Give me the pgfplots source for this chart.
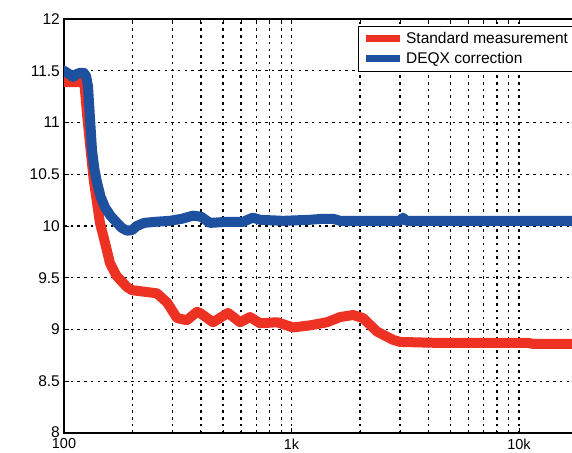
\documentclass[border=0pt]{standalone}
\usepackage{pgfplots}
\pgfplotsset{compat=1.18}
\usepackage{fontspec}
\setmainfont{Liberation Sans}
\definecolor{cred}{RGB}{237,50,36}
\definecolor{cblue}{RGB}{30,80,160}
\begin{document}
\begin{tikzpicture}
\path[use as bounding box] (-64pt,-19pt) rectangle (508pt,433pt);
\clip (-64pt,-19pt) rectangle (508pt,433pt);
\begin{axis}[
  at={(0pt,0pt)}, anchor=south west,
  scale only axis, width=523.5pt, height=414pt,
  xmode=log, xmin=100, xmax=20000, ymin=8, ymax=12,
  xtick={100,1000,10000}, xticklabels={100,1k,10k},
  ytick={8,8.5,9,9.5,10,10.5,11,11.5,12},
  yticklabels={\raisebox{2pt}{8},8.5,9,9.5,10,10.5,11,11.5,12},
  minor xtick={200,300,400,500,600,700,800,900,2000,3000,4000,5000,6000,7000,8000,9000},
  tick align=inside, major tick length=5pt, minor tick length=3pt,
  tick style={black, line width=1pt},
  axis line style={black, line width=1.6pt},
  xmajorgrids, xminorgrids, ymajorgrids,
  major grid style={black, line width=1.2pt, dash pattern=on 2.5pt off 4.2pt},
  minor grid style={black, line width=1.2pt, dash pattern=on 2.5pt off 4.2pt},
  tick label style={font=\fontsize{15.5}{18}\selectfont, inner sep=0pt},
  xticklabel style={anchor=north, yshift=-5.5pt, font=\fontsize{14.5}{17}\selectfont},
  yticklabel style={anchor=east, xshift=-4pt},
  /pgf/number format/assume math mode=true,
  legend style={at={(axis description cs:0.5616,0.9838)}, anchor=north west,
    draw=black, line width=1.2pt, font=\fontsize{15.5}{18}\selectfont,
    inner xsep=4pt, inner ysep=3.5pt, row sep=2.5pt,
    nodes={inner sep=2.5pt}},
  legend cell align=left,
  legend image code/.code={\draw[#1, line width=7pt, line cap=butt] (0pt,0pt) -- (34pt,0pt);},
]
\addplot[cred, line width=10pt, line join=round] coordinates {
(95,11.39) (100,11.39) (120,11.39) (123,11.37) (126,11.1) (130,10.8) (135,10.45)
(143.9,10.03) (151,9.85) (159.3,9.64) (170,9.52) (189,9.41) (199,9.38) (216,9.37)
(256,9.35) (284,9.26) (314,9.11) (347,9.09) (384,9.17) (396,9.16) (452,9.07)
(526,9.16) (594,9.07) (657,9.12) (727,9.06) (864,9.07) (1015,9.02) (1206,9.04)
(1432,9.07) (1634,9.12) (1864,9.14) (2062,9.11) (2376,8.98) (2794,8.9) (3000,8.88)
(4496,8.87) (11000,8.87) (11600,8.86) (21000,8.86)
};
\addlegendentry{Standard measurement}
\addplot[cblue, line width=10pt, line join=round] coordinates {
(95,11.50) (100,11.50) (105,11.47) (109.5,11.44) (114,11.47) (118,11.48) (122,11.48)
(125,11.45) (127.5,11.35) (130,11.05) (132.8,10.73) (136,10.55) (139.7,10.42)
(145,10.28) (151.4,10.18) (160,10.10) (171,10.03) (180,9.98) (189,9.955) (199,9.96)
(209,10.00) (225,10.03) (250,10.04) (292,10.05) (330,10.07) (369,10.10) (400,10.09)
(438,10.03) (520,10.04) (612,10.04) (657,10.07) (677,10.08) (727,10.06) (918,10.05)
(1206,10.06) (1376,10.07) (1522,10.07) (1634,10.05) (3000,10.05) (3090,10.08)
(3200,10.05) (21000,10.05)
};
\addlegendentry{DEQX correction}
\end{axis}
\end{tikzpicture}
\end{document}
